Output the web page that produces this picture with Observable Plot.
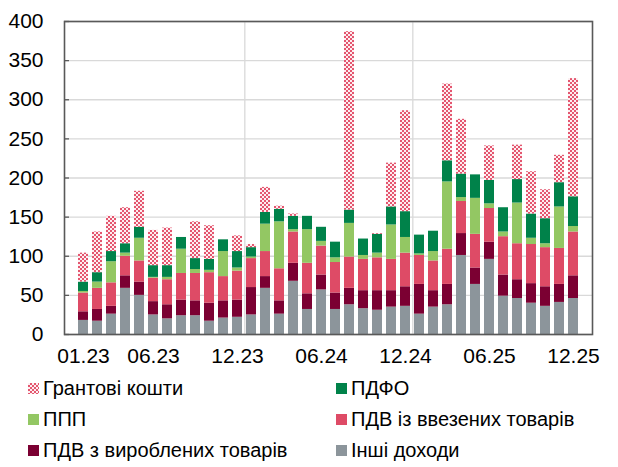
<!DOCTYPE html>
<html>
<head>
<meta charset="utf-8">
<script src="https://cdn.jsdelivr.net/npm/d3@7"></script>
<script src="https://cdn.jsdelivr.net/npm/@observablehq/plot@0.6"></script>
<style>
  html, body { margin: 0; padding: 0; background: #fff; }
  body { width: 618px; height: 467px; overflow: hidden; font-family: "Liberation Sans", Arial, sans-serif; }
  #legend { display: grid; grid-template-columns: 308px 280px; margin-left: 28px; padding-top: 3px; }
  .item { display: flex; align-items: center; height: 31px; font-size: 20px; color: #000; white-space: nowrap; }
  .sw { width: 11px; height: 11px; margin-right: 4px; flex: none; }
</style>
</head>
<body>
<div id="chart"></div>
<div id="legend"></div>
<script>
const months = ["01.23","02.23","03.23","04.23","05.23","06.23","07.23","08.23","09.23","10.23","11.23","12.23",
                "01.24","02.24","03.24","04.24","05.24","06.24","07.24","08.24","09.24","10.24","11.24","12.24",
                "01.25","02.25","03.25","04.25","05.25","06.25","07.25","08.25","09.25","10.25","11.25","12.25"];
const xTicks = ["01.23","06.23","12.23","06.24","12.24","06.25","12.25"];
const yearEnds = ["12.23","12.24"];
const yTicks = [0,50,100,150,200,250,300,350,400];

// series, bottom to top
const inshi   = [18,17,26,59,50,25,20,24,24,17,21,22, 25,59,26,68,32,57,32,38,33,31,35,36, 26,35,38,101,64,96,49,46,40,36,41,46];
const pdvVyr  = [11,15,10,16,17,17,18,20,19,23,22,22, 35,15,17,23,20,19,21,21,23,25,21,25, 38,21,26,28,21,22,27,24,25,25,23,29];
const pdvVvez = [24,27,30,25,27,30,32,34,35,39,31,37, 37,32,41,40,39,37,39,40,40,42,40,43, 37,38,45,41,43,43,49,46,50,50,46,56];
const ppp     = [2,8,27,4,29,1,3,31,5,3,32,4, 2,35,60,3,43,6,6,43,5,6,44,20, 2,12,86,5,46,6,6,52,8,5,53,7];
const pdfo    = [12,12,13,12,14,15,15,15,14,14,15,21, 12,15,16,17,17,18,20,17,21,24,23,33, 24,26,27,30,30,30,31,30,31,32,31,38];
const grant   = [37,52,45,46,46,45,48,0,47,43,0,20, 4,32,4,3,0,0,0,228,0,1,56,129, 0,0,98,70,0,44,0,44,54,37,35,151];

const seriesNames = ["Інші доходи","ПДВ з вироблених товарів","ПДВ із ввезених товарів","ППП","ПДФО","Грантові кошти"];
const seriesValues = [inshi, pdvVyr, pdvVvez, ppp, pdfo, grant];
const seriesColors = ["#8c959b","#7b0032","#de4b66","#93c763","#00824a","url(#grantPattern)"];

const data = [];
seriesNames.forEach((s, si) => {
  months.forEach((m, mi) => data.push({month: m, series: s, value: seriesValues[si][mi]}));
});

const W = 618, H = 370, mL = 64, mR = 26, mT = 21, mB = 36;
const pIn = 0.32, pOut = 0.18;
const step = (W - mL - mR) / (months.length - pIn + 2 * pOut);

const chart = Plot.plot({
  width: W, height: H,
  marginLeft: mL, marginRight: mR, marginTop: mT, marginBottom: mB,
  style: {fontFamily: "'Liberation Sans', Arial, sans-serif", color: "#000", background: "#fff"},
  x: {domain: months, paddingInner: pIn, paddingOuter: pOut, label: null},
  y: {domain: [0, 400], label: null},
  color: {domain: seriesNames, range: seriesColors},
  marks: [
    Plot.gridY(yTicks, {stroke: "#d9d9d9", strokeOpacity: 1, strokeWidth: 1.3}),
    Plot.ruleX(yearEnds, {dx: step / 2, stroke: "#d9d9d9", strokeWidth: 1.3}),
    Plot.barY(data, {x: "month", y: "value", fill: "series"}),
    Plot.axisY(yTicks, {tickSize: -5, tickPadding: 26, fontSize: 21, stroke: "#595959", strokeWidth: 1.3, fill: "#000", label: null}),
    Plot.axisX(xTicks, {tickSize: 0, tickPadding: 14, fontSize: 21, fill: "#000", label: null}),
    Plot.frame({stroke: "#595959", strokeWidth: 1.6})
  ]
});

// checkered pattern for grants
const svg = d3.select(chart);
const defs = svg.insert("defs", ":first-child");
const pat = defs.append("pattern").attr("id", "grantPattern").attr("patternUnits", "userSpaceOnUse")
  .attr("width", 4).attr("height", 4);
pat.append("rect").attr("width", 4).attr("height", 4).attr("fill", "#fdeef1");
pat.append("rect").attr("x", 0).attr("y", 0).attr("width", 2).attr("height", 2).attr("fill", "#e4566f");
pat.append("rect").attr("x", 2).attr("y", 2).attr("width", 2).attr("height", 2).attr("fill", "#e4566f");

document.getElementById("chart").appendChild(chart);

// legend: two columns, order as in reference
const legendOrder = ["Грантові кошти","ПДФО","ППП","ПДВ із ввезених товарів","ПДВ з вироблених товарів","Інші доходи"];
const legend = document.getElementById("legend");
legendOrder.forEach(name => {
  const i = seriesNames.indexOf(name);
  const item = document.createElement("div");
  item.className = "item";
  const sw = document.createElement("span");
  sw.className = "sw";
  if (name === "Грантові кошти") {
    sw.style.background = "repeating-conic-gradient(#e4566f 0 25%, #fdeef1 0 50%) 0 0 / 4px 4px";
  } else {
    sw.style.background = seriesColors[i];
  }
  item.appendChild(sw);
  item.appendChild(document.createTextNode(name));
  legend.appendChild(item);
});
</script>
</body>
</html>
